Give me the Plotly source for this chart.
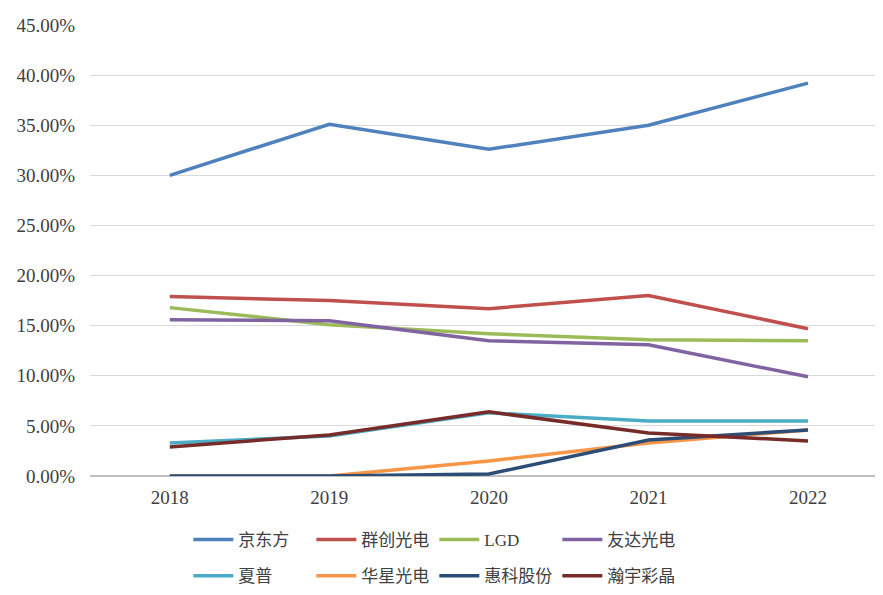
import plotly.graph_objects as go

years = ["2018", "2019", "2020", "2021", "2022"]
names = ["京东方", "群创光电", "LGD", "友达光电", "夏普", "华星光电", "惠科股份", "瀚宇彩晶"]
boe = [30.0, 35.1, 32.6, 35.0, 39.2]
innolux = [17.9, 17.5, 16.7, 18.0, 14.7]
lgd = [16.8, 15.1, 14.2, 13.6, 13.5]
auo = [15.6, 15.5, 13.5, 13.1, 9.9]
sharp = [3.3, 4.0, 6.3, 5.5, 5.5]
csot = [0.0, 0.0, 1.5, 3.3, 4.6]
hkc = [0.0, 0.0, 0.2, 3.6, 4.6]
hannstar = [2.9, 4.1, 6.4, 4.3, 3.5]
series = [boe, innolux, lgd, auo, sharp, csot, hkc, hannstar]
colors = ["#4F81BD", "#C0504D", "#9BBB59", "#8064A2", "#4BACC6", "#F79646", "#2C4D75", "#772C2A"]
y_ticks = [0, 5, 10, 15, 20, 25, 30, 35, 40, 45]

fig = go.Figure()
for i in range(len(series)):
    fig.add_trace(go.Scatter(
        x=years, y=series[i], name=names[i], mode="lines",
        line=dict(color=colors[i], width=3.5),
        legend="legend" if i < 4 else "legend2",
    ))

legend_common = dict(
    orientation="h", xanchor="left", yanchor="top",
    entrywidth=68, entrywidthmode="pixels",
    font=dict(family="Liberation Serif, Noto Sans CJK SC", size=17, color="#404040"),
    itemwidth=40, tracegroupgap=0, bgcolor="rgba(0,0,0,0)",
)

fig.update_layout(
    width=875, height=583,
    margin=dict(l=82, r=0, t=17, b=115, autoexpand=False),
    paper_bgcolor="white", plot_bgcolor="white",
    font=dict(family="Liberation Serif, Noto Sans CJK SC", size=16, color="#404040"),
    showlegend=True,
    legend=dict(x=0.124, y=-0.102, **legend_common),
    legend2=dict(x=0.124, y=-0.182, **legend_common),
    xaxis=dict(
        type="category", range=[-0.5, 4.47], automargin=False,
        showgrid=False, showline=False, ticks="",
        tickfont=dict(size=19), ticklabelstandoff=8,
    ),
    yaxis=dict(
        range=[0, 45], tickvals=y_ticks, automargin=False,
        ticktext=[f"{v:.2f}%" for v in y_ticks],
        showgrid=True, gridcolor="#D9D9D9", gridwidth=1,
        zeroline=True, zerolinecolor="#BFBFBF", zerolinewidth=1.5,
        showline=False, ticks="",
        tickfont=dict(size=19), ticklabelstandoff=14,
    ),
)

fig.write_html("out.html")
